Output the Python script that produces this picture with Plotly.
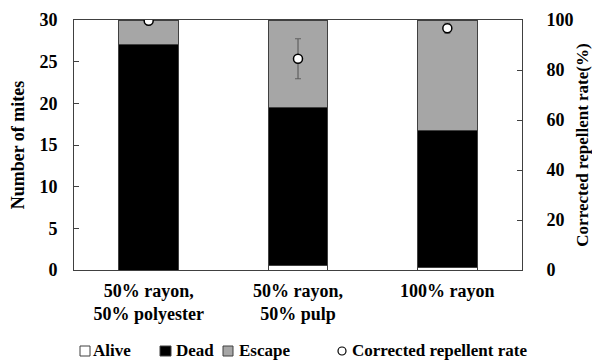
import plotly.graph_objects as go

categories = ["50% rayon,<br>50% polyester", "50% rayon,<br>50% pulp", "100% rayon"]
alive = [0.0, 0.6, 0.3]
dead = [27.1, 18.9, 16.4]
escape = [2.9, 10.5, 13.3]
rate = [99.7, 84.5, 96.7]
rate_err = [0.0, 8.0, 2.0]
left_ticks = [0, 5, 10, 15, 20, 25, 30]
right_ticks = [0, 20, 40, 60, 80, 100]
legend_labels = ["Alive", "Dead", "Escape", "Corrected repellent rate"]

FONT = "Liberation Serif"
edge = "#404040"
ESC = "#a6a6a6"

# plot area in pixels (for paper-coordinate conversions of legend decorations)
L, R, T, B = 74, 522, 20, 270
W, H = R - L, B - T
def px(x):
    return (x - L) / W
def py(y):
    return (B - y) / H

fig = go.Figure()
fig.add_trace(go.Bar(name="Alive", x=categories, y=alive, marker=dict(color="white", line=dict(color=edge, width=1))))
fig.add_trace(go.Bar(name="Dead", x=categories, y=dead, marker=dict(color="black", line=dict(color=edge, width=1))))
fig.add_trace(go.Bar(name="Escape", x=categories, y=escape, marker=dict(color=ESC, line=dict(color=edge, width=1))))
fig.add_trace(go.Scatter(
    name="Corrected repellent rate", x=categories, y=rate, yaxis="y2", mode="markers",
    marker=dict(symbol="circle", size=9, color="white", line=dict(color="black", width=1.5)),
    error_y=dict(type="data", array=rate_err, visible=True, color="#606060", thickness=1.2, width=3),
))

# legend drawn below the plot
leg_font = dict(family=FONT, size=17, color="black", weight="bold")
leg_cy = 351
items = [
    ("rect", 80, 90, "white", 91),
    ("rect", 160, 171, "black", 174),
    ("rect", 223, 233, ESC, 237),
    ("circle", 338, 346, "white", 350),
]
shapes = []
annotations = []
for (kind, x0, x1, fill, tx), label in zip(items, legend_labels):
    if kind == "rect":
        shapes.append(dict(type="rect", xref="paper", yref="paper", x0=px(x0), x1=px(x1),
                           y0=py(leg_cy + 5), y1=py(leg_cy - 5), fillcolor=fill, line=dict(color=edge, width=1)))
    else:
        shapes.append(dict(type="circle", xref="paper", yref="paper", x0=px(x0), x1=px(x1),
                           y0=py(leg_cy + 4), y1=py(leg_cy - 4), fillcolor=fill, line=dict(color="black", width=1.2)))
    annotations.append(dict(text=label, xref="paper", yref="paper", x=px(tx), y=py(leg_cy - 1),
                            xanchor="left", yanchor="middle", showarrow=False, font=leg_font))

fig.update_layout(
    width=592, height=363,
    margin=dict(l=L, r=592 - R, t=T, b=363 - B),
    paper_bgcolor="white", plot_bgcolor="white",
    barmode="stack", bargap=0.6,
    font=dict(family=FONT, size=18, color="black", weight="bold"),
    showlegend=False,
    shapes=shapes, annotations=annotations,
    xaxis=dict(showline=True, linecolor=edge, linewidth=1, mirror=True, ticks="",
               ticklabelstandoff=4, automargin=False,
               tickfont=dict(family=FONT, size=18, weight="bold")),
    yaxis=dict(range=[0, 30], tickvals=left_ticks, showgrid=False, zeroline=False,
               showline=True, linecolor=edge, linewidth=1, ticks="inside", ticklen=5, tickcolor=edge,
               ticklabelstandoff=12, automargin=False,
               title=dict(text="Number of mites", font=dict(family=FONT, size=18, weight="bold"), standoff=10),
               tickfont=dict(family=FONT, size=18, weight="bold")),
    yaxis2=dict(range=[0, 100], tickvals=right_ticks, overlaying="y", side="right",
                showgrid=False, zeroline=False, showline=True, linecolor=edge, linewidth=1,
                ticks="inside", ticklen=5, tickcolor=edge, ticklabelstandoff=20, automargin=False,
                title=dict(text="Corrected repellent rate(%)", font=dict(family=FONT, size=17, weight="bold"), standoff=6),
                tickfont=dict(family=FONT, size=18, weight="bold")),
)

fig.write_html("out.html")
